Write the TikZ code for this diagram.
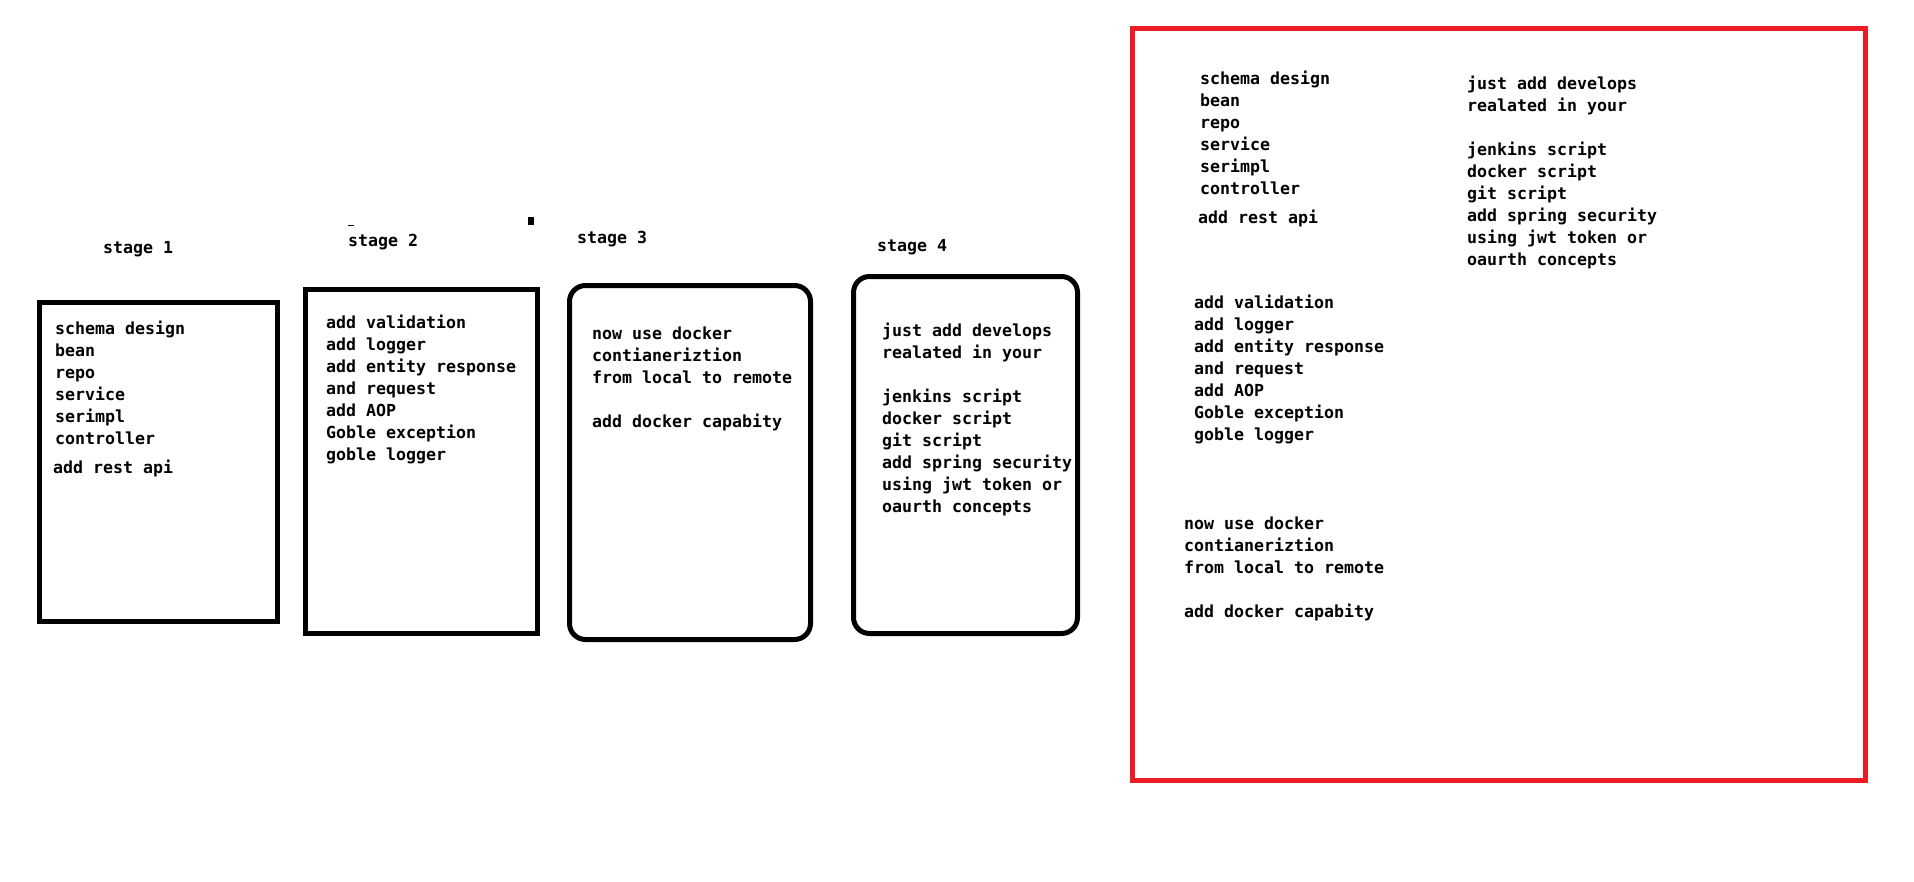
\documentclass[tikz,border=0pt]{standalone}
\usepackage{fontspec}
\newfontfamily\consfont{DejaVu Sans Mono}
\definecolor{paintred}{HTML}{ED1C24}
\begin{document}
\begin{tikzpicture}[x=1pt,y=-1pt,
  txt/.style={anchor=base west,inner sep=0pt,align=left,
    font=\consfont\bfseries\fontsize{16.6}{22}\selectfont},
  stagebox/.style={draw=black,line width=5pt},
  roundbox/.style={draw=black,line width=5pt,rounded corners=16pt},
  redbox/.style={draw=paintred,line width=5pt}]
\useasboundingbox (0,0) rectangle (1914,881);
\fill[white] (0,0) rectangle (1914,881);

% stage labels
\node[txt] (l1) at (103,253) {stage 1};
\node[txt] (l2) at (348,246) {stage 2};
\node[txt] (l3) at (577,243) {stage 3};
\node[txt] (l4) at (877,251) {stage 4};

% stray marks
\draw[line width=1.2pt] (348,225.5) -- (354,225.5);
\fill[black] (528,217) rectangle (534,225);

% boxes
\draw[stagebox] (39.5,302.5) rectangle (277.5,621.5);
\draw[stagebox] (305.5,289.5) rectangle (537.5,633.5);
\draw[roundbox] (569.5,285.5) rectangle (810.5,639.5);
\draw[roundbox] (853.5,276.5) rectangle (1077.5,633.5);
\draw[redbox] (1132.5,28.5) rectangle (1865.5,780.5);

% (base anchor of a multi-line node = baseline of its last line)
% stage 1
\node[txt] (s1) at (55,444) {schema design\\bean\\repo\\service\\serimpl\\controller};
\node[txt] (s1b) at (53,473) {add rest api};
% stage 2
\node[txt] (s2) at (326,460) {add validation\\add logger\\add entity response\\and request\\add AOP\\Goble exception\\goble logger};
% stage 3
\node[txt] (s3) at (592,427) {now use docker\\contianeriztion\\from local to remote\\[22pt]add docker capabity};
% stage 4
\node[txt] (s4) at (882,512) {just add develops\\realated in your\\[22pt]jenkins script\\docker script\\git script\\add spring security\\using jwt token or\\oaurth concepts};

% summary (red box)
\node[txt] (r1) at (1200,194) {schema design\\bean\\repo\\service\\serimpl\\controller};
\node[txt] (r1b) at (1198,223) {add rest api};
\node[txt] (r2) at (1194,440) {add validation\\add logger\\add entity response\\and request\\add AOP\\Goble exception\\goble logger};
\node[txt] (r3) at (1184,617) {now use docker\\contianeriztion\\from local to remote\\[22pt]add docker capabity};
\node[txt] (r4) at (1467,265) {just add develops\\realated in your\\[22pt]jenkins script\\docker script\\git script\\add spring security\\using jwt token or\\oaurth concepts};
\end{tikzpicture}
\end{document}
